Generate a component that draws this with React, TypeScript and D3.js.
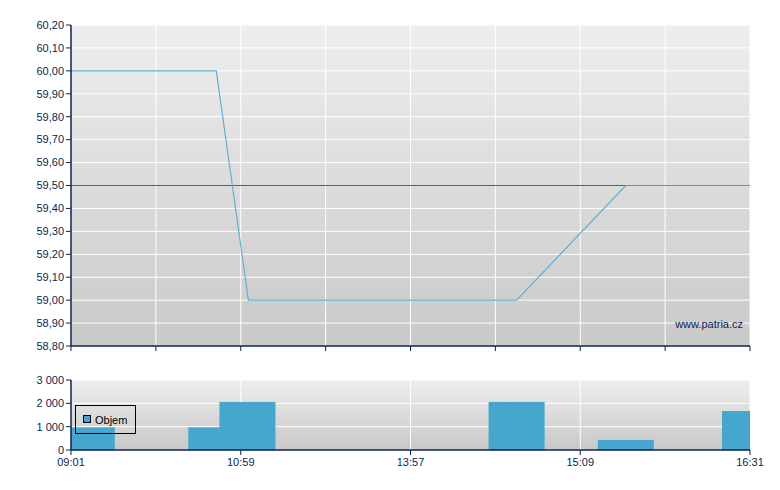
import React from "react";
import * as d3 from "d3";

// ---- data ----
const tickTimes = ["09:01", "10:59", "13:57", "15:09", "16:31"];
const priceTimes = ["09:01", "10:42", "11:07", "14:42", "15:31"];
const priceValues = [60.0, 60.0, 59.0, 59.0, 59.5];
const refPrice = 59.5;
const volumeTimes = ["09:12", "10:42", "11:06", "14:42", "15:31", "16:31"];
const volumeValues = [970, 970, 2060, 2060, 430, 1670];
const priceTicks = [58.8, 58.9, 59.0, 59.1, 59.2, 59.3, 59.4, 59.5, 59.6, 59.7, 59.8, 59.9, 60.0, 60.1, 60.2];
const volumeTicks = [0, 1000, 2000, 3000];
const legendLabel = "Objem";
const watermark = "www.patria.cz";

const toMin = (s: string) => {
  const [h, m] = s.split(":").map(Number);
  return h * 60 + m;
};

const W = 780;
const H = 490;
const left = 71;
const right = 750;
const top1 = 25;
const bot1 = 346;
const top2 = 380;
const bot2 = 450;
const navy = "#0b1f4f";
const font = "'Liberation Sans', Arial, sans-serif";

export default function App() {
  // piecewise time scale: each labelled tick occupies two grid columns
  const gridPos = d3.scaleLinear().domain([0, 8]).range([left, right]);
  const x = d3
    .scaleLinear()
    .domain(tickTimes.map(toMin))
    .range(tickTimes.map((_, i) => gridPos(i * 2)));
  const y = d3.scaleLinear().domain([58.8, 60.2]).range([bot1, top1]);
  const yv = d3.scaleLinear().domain([0, 3000]).range([bot2, top2]);

  const line = d3
    .line<number>()
    .x((_, i) => x(toMin(priceTimes[i])))
    .y((d) => y(d));
  const fmtP = (v: number) => v.toFixed(2).replace(".", ",");
  const fmtV = (v: number) => d3.format(",")(v).replace(/,/g, " ");
  const grid = d3.range(0, 9);
  const barW = (gridPos(1) - gridPos(0)) * 0.66;
  const lastIdx = priceValues.length - 1;
  const lastX = x(toMin(priceTimes[lastIdx]));
  const lastY = Math.floor(y(priceValues[lastIdx])) + 0.5;

  return (
    <svg width={W} height={H} style={{ position: "absolute", left: 0, top: 0 }} fontFamily={font}>
      <defs>
        <linearGradient id="bg1" x1="0" y1="0" x2="0" y2="1">
          <stop offset="0" stopColor="#eeeeee" />
          <stop offset="1" stopColor="#c9c9c9" />
        </linearGradient>
        <linearGradient id="bg2" x1="0" y1="0" x2="0" y2="1">
          <stop offset="0" stopColor="#eeeeee" />
          <stop offset="1" stopColor="#c8c8c8" />
        </linearGradient>
        <clipPath id="c1">
          <rect x={left} y={top1} width={right - left} height={bot1 - top1} />
        </clipPath>
        <clipPath id="c2">
          <rect x={left} y={top2} width={right - left} height={bot2 - top2} />
        </clipPath>
      </defs>
      <rect width={W} height={H} fill="#ffffff" />

      {/* ---------- price panel ---------- */}
      <rect x={left} y={top1} width={right - left} height={bot1 - top1} fill="url(#bg1)" />
      {priceTicks.map((t) => (
        <line key={"hg" + t} x1={left} x2={right} y1={y(t)} y2={y(t)} stroke="#ffffff" strokeWidth={1} />
      ))}
      {grid.map((g) => (
        <line key={"vg" + g} x1={gridPos(g)} x2={gridPos(g)} y1={top1} y2={bot1} stroke="#ffffff" strokeWidth={1} />
      ))}
      <text x={743} y={328} textAnchor="end" fontSize={11} fill={navy}>
        {watermark}
      </text>
      <g clipPath="url(#c1)">
        <line x1={left} x2={right} y1={y(refPrice)} y2={y(refPrice)} stroke="#e0282a" strokeWidth={1} />
        <line x1={lastX} x2={right} y1={lastY} y2={lastY} stroke="#3a9fd6" strokeWidth={1} />
        <path d={line(priceValues) || ""} fill="none" stroke="#60afd8" strokeWidth={1.2} />
      </g>
      {/* y axis */}
      <line x1={left} x2={left} y1={top1} y2={bot1} stroke={navy} strokeWidth={1.5} />
      {priceTicks.map((t) => (
        <g key={"yt" + t}>
          <line x1={left - 5} x2={left} y1={y(t)} y2={y(t)} stroke={navy} />
          <text x={64} y={y(t)} dy="0.35em" textAnchor="end" fontSize={11} fill={navy}>
            {fmtP(t)}
          </text>
        </g>
      ))}
      {/* x axis */}
      <line x1={left} x2={right} y1={bot1} y2={bot1} stroke={navy} strokeWidth={1.5} />
      {grid.map((g) => (
        <line key={"xt" + g} x1={gridPos(g)} x2={gridPos(g)} y1={bot1} y2={bot1 + 5} stroke={navy} />
      ))}

      {/* ---------- volume panel ---------- */}
      <rect x={left} y={top2} width={right - left} height={bot2 - top2} fill="url(#bg2)" />
      {volumeTicks.map((t) => (
        <line key={"vh" + t} x1={left} x2={right} y1={yv(t)} y2={yv(t)} stroke="#ffffff" />
      ))}
      {tickTimes.map((t) => (
        <line key={"vv" + t} x1={x(toMin(t))} x2={x(toMin(t))} y1={top2} y2={bot2} stroke="#ffffff" />
      ))}
      <g clipPath="url(#c2)">
        {volumeValues.map((v, i) => {
          const cx = x(toMin(volumeTimes[i]));
          return (
            <rect
              key={"b" + i}
              x={cx - barW / 2}
              y={yv(v)}
              width={barW}
              height={bot2 - yv(v)}
              fill="#46a6ce"
            />
          );
        })}
      </g>
      <line x1={left} x2={left} y1={top2} y2={bot2} stroke={navy} strokeWidth={1.5} />
      {volumeTicks.map((t) => (
        <g key={"vt" + t}>
          <line x1={left - 5} x2={left} y1={yv(t)} y2={yv(t)} stroke={navy} />
          <text x={64} y={yv(t)} dy="0.35em" textAnchor="end" fontSize={11} fill={navy}>
            {fmtV(t)}
          </text>
        </g>
      ))}
      <line x1={left} x2={right} y1={bot2} y2={bot2} stroke={navy} strokeWidth={1.5} />
      {tickTimes.map((t) => (
        <g key={"xl" + t}>
          <line x1={x(toMin(t))} x2={x(toMin(t))} y1={bot2} y2={bot2 + 5} stroke={navy} />
          <text x={x(toMin(t))} y={466} textAnchor="middle" fontSize={11} fill={navy}>
            {t}
          </text>
        </g>
      ))}

      {/* legend */}
      <rect x={75.5} y={405.5} width={60} height={28} fill="none" stroke="#000000" strokeWidth={1} />
      <rect x={83.5} y={415.5} width={7} height={7} fill="#46a6ce" stroke="#000000" strokeWidth={1} />
      <text x={95} y={423.5} fontSize={11} fill="#000000">
        {legendLabel}
      </text>
    </svg>
  );
}
